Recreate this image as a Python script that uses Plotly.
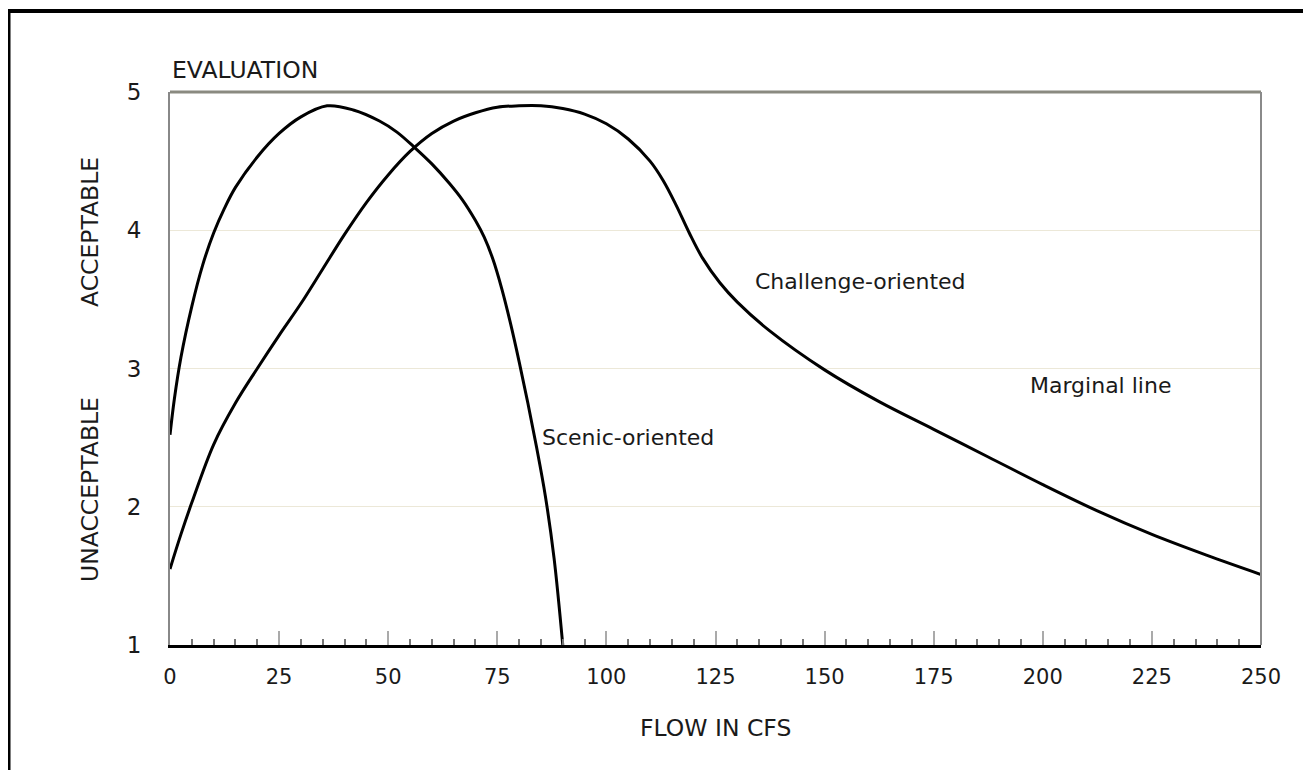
import plotly.graph_objects as go

# ---- data ----
scenic_x = [0, 1, 2.5, 5, 7.5, 10, 12.5, 15, 20, 25, 30, 36, 42, 48, 52, 56, 60, 64, 67, 70, 72,
            74, 76, 78, 80, 82, 84, 86, 88, 90]
scenic_y = [2.52, 2.78, 3.08, 3.45, 3.75, 3.98, 4.16, 4.31, 4.53, 4.70, 4.82, 4.90, 4.87, 4.79, 4.71,
            4.60, 4.48, 4.34, 4.22, 4.07, 3.95, 3.79, 3.58, 3.33, 3.05, 2.75, 2.43, 2.08, 1.63, 1.0]

challenge_x = [0, 2.5, 5, 10, 15, 20, 25, 30, 35, 40, 45, 50, 55, 60, 65, 70, 75, 80, 85, 90, 95,
               100, 105, 110, 113, 116, 119, 122, 126, 130, 137.5, 150, 162.5, 175, 187.5, 200,
               212.5, 225, 237.5, 250]
challenge_y = [1.55, 1.80, 2.03, 2.45, 2.75, 3.0, 3.24, 3.47, 3.72, 3.97, 4.20, 4.40, 4.57, 4.70,
               4.79, 4.85, 4.89, 4.90, 4.90, 4.88, 4.84, 4.77, 4.66, 4.50, 4.36, 4.18, 3.98, 3.80,
               3.62, 3.48, 3.27, 2.99, 2.76, 2.56, 2.36, 2.16, 1.97, 1.80, 1.65, 1.51]

x_ticks = [0, 25, 50, 75, 100, 125, 150, 175, 200, 225, 250]
y_ticks = [1, 2, 3, 4, 5]

FONT = "DejaVu Sans, Liberation Sans, Arial, sans-serif"
TXT = "#1a1a1a"
LBL = 22        # mixed-case curve labels
CAPS = 23.5     # upper-case titles

# plot area in window pixels: x 170..1261, y 92..645 (page has an 8px body margin)
PX0, PX1, PY0, PY1 = 170.0, 1261.0, 92.0, 645.0


def px(xw):
    return (xw - PX0) / (PX1 - PX0)


def py(yw):
    return (PY1 - yw) / (PY1 - PY0)


fig = go.Figure()
fig.add_trace(go.Scatter(x=scenic_x, y=scenic_y, mode="lines",
                         line=dict(color="#000000", width=3, shape="spline", smoothing=1.0),
                         hoverinfo="skip", showlegend=False))
fig.add_trace(go.Scatter(x=challenge_x, y=challenge_y, mode="lines",
                         line=dict(color="#000000", width=3, shape="spline", smoothing=1.0),
                         hoverinfo="skip", showlegend=False))

fig.update_layout(
    width=1303, height=762,
    margin=dict(l=162, r=50, t=84, b=125),
    paper_bgcolor="white", plot_bgcolor="white",
    font=dict(family=FONT, color=TXT, size=LBL),
    showlegend=False,
)

fig.update_xaxes(
    range=[0, 250], tickvals=x_ticks, ticktext=[str(v) for v in x_ticks],
    showgrid=False, zeroline=False,
    showline=True, linecolor="#000000", linewidth=3,
    ticks="inside", ticklen=14, tickcolor="#aaaaaa", tickwidth=2,
    minor=dict(dtick=5, tick0=0, ticks="inside", ticklen=6, tickcolor="#777777", tickwidth=2),
    tickfont=dict(size=21, family=FONT, color=TXT),
    ticklabelstandoff=11,
)
fig.update_yaxes(
    range=[1, 5], tickvals=y_ticks, ticktext=[str(v) for v in y_ticks],
    showgrid=True, gridcolor="#ece8d8", gridwidth=1,
    zeroline=False,
    showline=True, linecolor="#888888", linewidth=2,
    ticks="", tickfont=dict(size=23, family=FONT, color=TXT),
    ticklabelstandoff=22,
)

# top line at 5 and right border
fig.add_shape(type="line", xref="paper", yref="paper", x0=0, x1=1, y0=1, y1=1,
              line=dict(color="#8a8a80", width=3))
fig.add_shape(type="line", xref="paper", yref="paper", x0=1, x1=1, y0=0, y1=1,
              line=dict(color="#8a8a8a", width=2))

# outer frame
fig.add_shape(type="rect", xref="paper", yref="paper",
              x0=px(8.5), x1=px(1340), y0=py(800), y1=py(11),
              line=dict(color="#000000", width=4), fillcolor="rgba(0,0,0,0)", layer="above")

# text labels
fig.add_annotation(xref="paper", yref="paper", x=px(170), y=py(70), xanchor="left", yanchor="middle",
                   text="EVALUATION", showarrow=False, font=dict(size=CAPS, family=FONT, color=TXT))
fig.add_annotation(xref="paper", yref="paper", x=px(90), y=py(232),
                   xanchor="center", yanchor="middle", textangle=-90,
                   text="ACCEPTABLE", showarrow=False, font=dict(size=CAPS, family=FONT, color=TXT))
fig.add_annotation(xref="paper", yref="paper", x=px(90), y=py(490),
                   xanchor="center", yanchor="middle", textangle=-90,
                   text="UNACCEPTABLE", showarrow=False, font=dict(size=CAPS, family=FONT, color=TXT))
fig.add_annotation(xref="paper", yref="paper", x=0.5, y=py(728), xanchor="center", yanchor="middle",
                   text="FLOW IN CFS", showarrow=False, font=dict(size=CAPS, family=FONT, color=TXT))

fig.add_annotation(x=84.8, y=2.50, xanchor="left", yanchor="middle", text="Scenic-oriented",
                   showarrow=False, font=dict(size=LBL, family=FONT, color=TXT))
fig.add_annotation(x=133.6, y=3.63, xanchor="left", yanchor="middle", text="Challenge-oriented",
                   showarrow=False, font=dict(size=LBL, family=FONT, color=TXT))
fig.add_annotation(x=196.6, y=2.88, xanchor="left", yanchor="middle", text="Marginal line",
                   showarrow=False, font=dict(size=LBL, family=FONT, color=TXT))

fig.write_html("out.html")
